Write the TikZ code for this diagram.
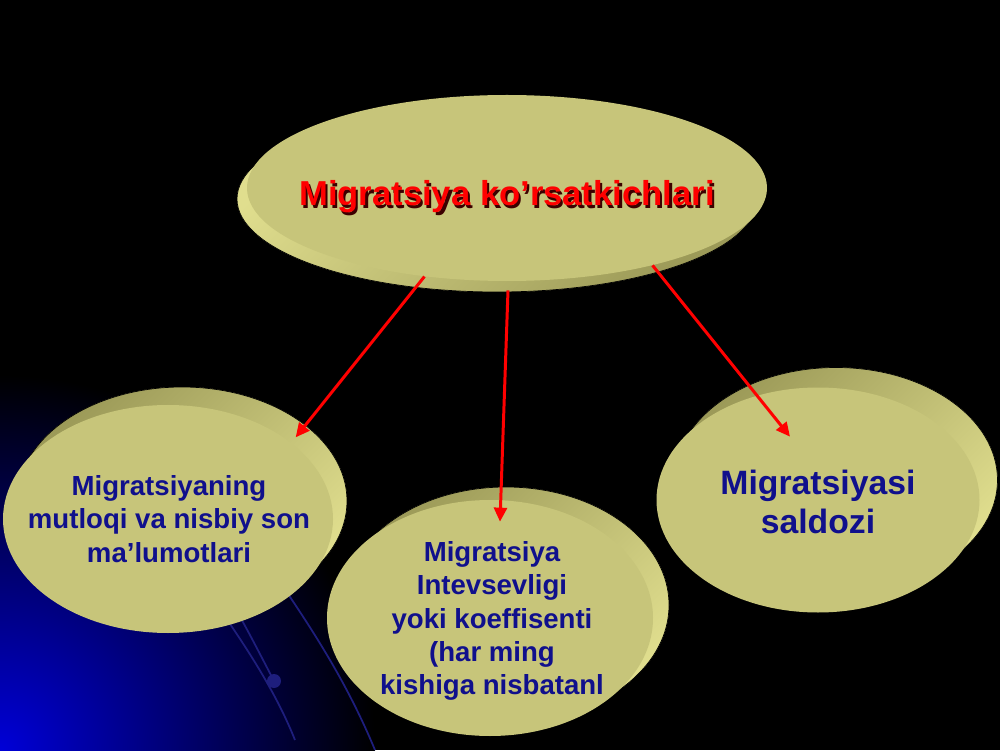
\documentclass[tikz,border=0pt]{standalone}
\usepackage{fontspec}
\setmainfont{Liberation Sans}
\usetikzlibrary{arrows.meta, shapes.geometric, shadows, positioning}
\definecolor{facekhaki}{RGB}{199,197,122}
\definecolor{rimlight}{RGB}{224,222,142}
\definecolor{sidedark}{RGB}{156,154,88}
\definecolor{textnavy}{RGB}{16,16,140}
\definecolor{titlered}{RGB}{255,0,0}
\definecolor{titleshade}{RGB}{60,0,0}
\definecolor{glowblue}{RGB}{0,0,215}
\definecolor{lineblue}{RGB}{30,30,125}
\newcommand{\shadowed}[1]{\leavevmode\rlap{\hspace{1.3pt}\raisebox{-1.3pt}{\color{titleshade}#1}}#1}
\tikzset{
	disc/.style = {ellipse, fill = facekhaki, inner sep = 0pt},
	rimtop/.style = {copy shadow = {shadow xshift = -0.2cm, shadow yshift = -0.22cm, top color = rimlight, bottom color = sidedark, shading angle = 45}},
	rimside/.style 2 args = {copy shadow = {shadow xshift = #1, shadow yshift = #2, top color = sidedark, bottom color = rimlight, shading angle = 45}},
	titletext/.style = {text = titlered, font = \bfseries\fontsize{19.7pt}{23pt}\selectfont},
	bodytext/.style = {text = textnavy, align = center, font = \bfseries\fontsize{15.7pt}{19pt}\selectfont},
	bigtext/.style = {text = textnavy, align = center, font = \bfseries\fontsize{19.2pt}{22.5pt}\selectfont},
	redlink/.style = {draw = titlered, line width = 1.7pt, -{Triangle[length = 0.28cm, width = 0.26cm]}}
}
\begin{document}
\begin{tikzpicture}
	\useasboundingbox (0,0) rectangle (20,15);
	% slide background
	\fill[black] (0,0) rectangle (20,15);
	\begin{scope}
		\clip (0,0) rectangle (20,15);
		\shade[inner color = glowblue, outer color = black] (0,0) circle (7.5cm);
	\end{scope}
	\draw[lineblue, line width = 1pt] (4.2,3.1) .. controls (4.9,2.1) and (5.5,1.2) .. (5.9,0.2);
	\draw[lineblue, line width = 1pt] (4.5,3.2) .. controls (4.95,2.4) .. (5.48,1.38);
	\draw[lineblue, line width = 1pt] (5.5,3.5) .. controls (6.4,2.2) and (7.0,1.2) .. (7.5,0);
	\fill[lineblue] (5.48,1.38) circle (0.14);
	% ellipses
	\node[disc, rimtop, minimum width = 10.4cm, minimum height = 3.72cm] (top) at (10.14,11.24) {};
	\node[disc, rimside = {0.28cm}{0.36cm}, minimum width = 6.6cm, minimum height = 4.56cm] (left) at (3.36,4.62) {};
	\node[disc, rimside = {0.36cm}{0.4cm}, minimum width = 6.46cm, minimum height = 4.5cm] (right) at (16.36,5.0) {};
	\node[disc, rimside = {0.32cm}{0.26cm}, minimum width = 6.52cm, minimum height = 4.72cm] (mid) at (9.8,2.64) {};
	% texts
	\node[titletext, anchor = base] (lab_top) at ([yshift = -0.36cm]top.center) {\shadowed{Migratsiya ko’rsatkichlari}};
	\node[bodytext] (lab_left) at ([xshift = 0.02cm]left.center) {Migratsiyaning\\mutloqi va nisbiy son\\ma’lumotlari};
	\node[bodytext] (lab_mid) at ([xshift = 0.04cm, yshift = -0.06cm]mid.center) {Migratsiya\\Intevsevligi\\yoki koeffisenti\\(har ming\\kishiga nisbatanl};
	\node[bigtext] (lab_right) at ([yshift = -0.04cm]right.center) {Migratsiyasi\\saldozi};
	% arrows
	\draw[redlink] (top.-133) -- ([xshift = 0.1cm, yshift = 0.1cm]left.32);
	\draw[redlink] ([xshift = 0.02cm, yshift = -0.18cm]top.south) -- ([xshift = 0.2cm, yshift = -0.44cm]mid.north);
	\draw[redlink] (top.-28) -- ([xshift = -0.56cm, yshift = -0.99cm]right.north);
\end{tikzpicture}
\end{document}
